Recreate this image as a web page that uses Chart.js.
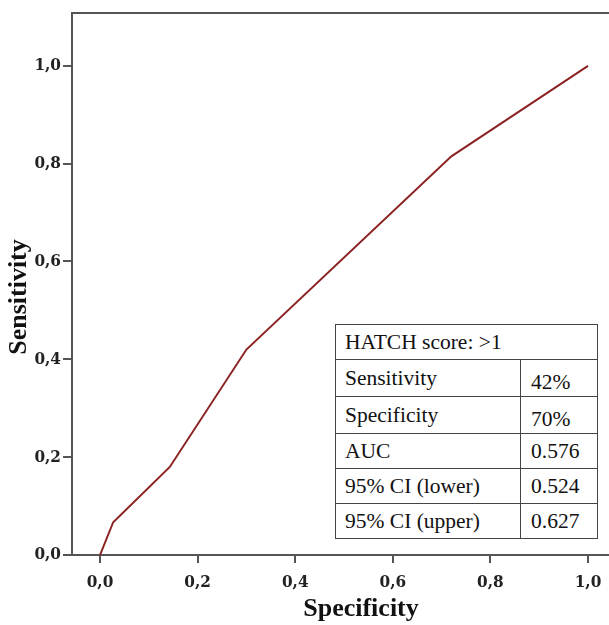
<!DOCTYPE html>
<html>
<head>
<meta charset="utf-8">
<script src="https://cdn.jsdelivr.net/npm/chart.js@4/dist/chart.umd.min.js"></script>
<style>
  html, body { margin: 0; padding: 0; background: #fff; overflow: hidden; width: 609px; height: 625px; }
  #wrap { position: relative; width: 650px; height: 625px; }
  #statTable {
    position: absolute; left: 335px; top: 324px; width: 263px;
    border-collapse: collapse; background: #fff;
    font-family: "Liberation Serif", "Times New Roman", serif; font-size: 21.5px; color: #111;
  }
  #statTable td { border: 1px solid #444; padding: 0 0 0 9px; height: 34px; line-height: 21px; white-space: nowrap; }
  #statTable td.val { width: 66px; padding-left: 10px; }
  #statTable td.low { padding-top: 8px; height: 28px; }
</style>
</head>
<body>
<div id="wrap">
  <canvas id="rocChart" width="650" height="625"></canvas>
  <table id="statTable"></table>
</div>
<script>
/* ROC curve – HATCH score */

// 1 - specificity (x) and sensitivity (y)
const fpr = [0, 0.027, 0.143, 0.30, 0.72, 1.0];
const tpr = [0, 0.067, 0.18, 0.42, 0.815, 1.0];
const tickVals = [0, 0.2, 0.4, 0.6, 0.8, 1.0];

const tableTitle = 'HATCH score: >1';
const statNames  = ['Sensitivity', 'Specificity', 'AUC', '95% CI (lower)', '95% CI (upper)'];
const statValues = ['42%', '70%', '0.576', '0.524', '0.627'];

const SERIF = '"Liberation Serif", "Times New Roman", serif';
const TICK_FONT = '"DejaVu Serif Condensed", "DejaVu Serif", serif';
const AXIS_COLOR = '#555';

function buildTable() {
  const t = document.getElementById('statTable');
  let html = `<tr><td colspan="2">${tableTitle}</td></tr>`;
  statNames.forEach((name, i) => {
    const low = i < 2 ? ' low' : '';
    html += `<tr><td>${name}</td><td class="val${low}">${statValues[i]}</td></tr>`;
  });
  t.innerHTML = html;
}

const fmt = v => v.toFixed(1).replace('.', ',');
const fixedTicks = scale => { scale.ticks = tickVals.map(v => ({ value: v })); };

// top frame line
const topBorder = {
  id: 'topBorder',
  afterDraw(chart) {
    const { ctx, chartArea } = chart;
    ctx.save();
    ctx.strokeStyle = AXIS_COLOR;
    ctx.lineWidth = 2;
    ctx.beginPath();
    ctx.moveTo(chartArea.left - 1, chartArea.top);
    ctx.lineTo(chartArea.right, chartArea.top);
    ctx.stroke();
    ctx.restore();
  },
};

document.addEventListener('DOMContentLoaded', () => {
  buildTable();
  const ctx = document.getElementById('rocChart').getContext('2d');
  new Chart(ctx, {
    type: 'scatter',
    data: {
      datasets: [{
        data: fpr.map((x, i) => ({ x, y: tpr[i] })),
        showLine: true,
        borderColor: '#8B2323',
        borderWidth: 2,
        pointRadius: 0,
        tension: 0,
      }],
    },
    options: {
      responsive: false,
      animation: false,
      layout: { padding: { top: 13, right: 0, left: 0, bottom: 0 } },
      plugins: { legend: { display: false }, tooltip: { enabled: false } },
      scales: {
        x: {
          type: 'linear',
          min: -0.0574, max: 1.127,
          afterBuildTicks: fixedTicks,
          afterFit: s => { s.height = 70; },
          border: { display: true, color: AXIS_COLOR, width: 2 },
          grid: { drawOnChartArea: false, drawTicks: true, tickLength: 8, color: AXIS_COLOR, lineWidth: 2 },
          ticks: {
            callback: fmt, autoSkip: false, maxRotation: 0, padding: 9,
            color: '#222', font: { family: TICK_FONT, size: 17, weight: 'bold' },
          },
          title: {
            display: true, text: 'Specificity', color: '#111',
            font: { family: SERIF, size: 26, weight: 'bold' },
            padding: { top: 0, bottom: 0 },
          },
        },
        y: {
          type: 'linear',
          min: 0, max: 1.108,
          afterBuildTicks: fixedTicks,
          afterFit: s => { s.width = 72; },
          border: { display: true, color: AXIS_COLOR, width: 2 },
          grid: { drawOnChartArea: false, drawTicks: true, tickLength: 9, color: AXIS_COLOR, lineWidth: 2 },
          ticks: {
            callback: fmt, padding: 2,
            color: '#222', font: { family: TICK_FONT, size: 17, weight: 'bold' },
          },
          title: {
            display: true, text: 'Sensitivity\u00A0\u00A0\u00A0\u00A0', color: '#111',
            font: { family: SERIF, size: 26, weight: 'bold' },
            padding: { top: 4, bottom: 0 },
          },
        },
      },
    },
    plugins: [topBorder],
  });
});
</script>
</body>
</html>
